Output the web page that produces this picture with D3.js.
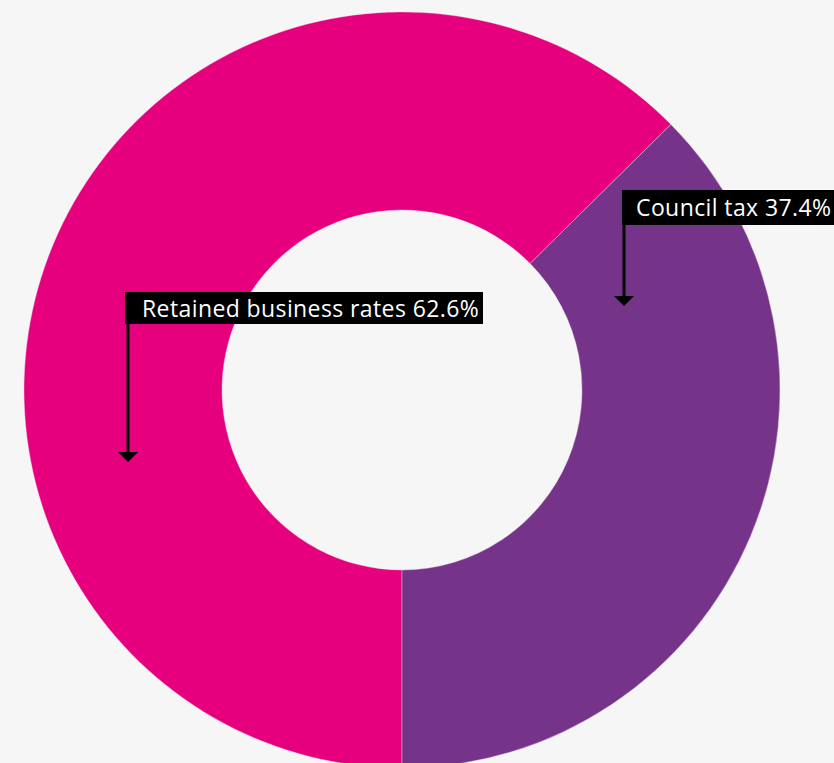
<!DOCTYPE html>
<html>
<head>
<meta charset="utf-8">
<script src="https://cdn.jsdelivr.net/npm/d3@7"></script>
<style>
  html, body { margin: 0; padding: 0; background: #f6f6f6; overflow: hidden; }
  svg { display: block; }
</style>
</head>
<body>
<div id="chart"></div>
<script>
var categories = ['Retained business rates', 'Council tax'];
var values = [62.6, 37.4];
var colors = ['#e6007e', '#75348a'];

var width = 834, height = 763;
var cx = 402, cy = 390;
var outerR = 378, innerR = 180;

var svg = d3.select('#chart').append('svg')
  .attr('width', width)
  .attr('height', height);

var pie = d3.pie()
  .sort(null)
  .startAngle(Math.PI)
  .endAngle(3 * Math.PI);

var arc = d3.arc()
  .innerRadius(innerR)
  .outerRadius(outerR);

var g = svg.append('g').attr('transform', 'translate(' + cx + ',' + cy + ')');

g.selectAll('path.slice')
  .data(pie(values))
  .enter().append('path')
  .attr('class', 'slice')
  .attr('d', arc)
  .attr('fill', function(d, i) { return colors[i]; })
  .attr('stroke', '#f0d8ec')
  .attr('stroke-width', 0.4);

// label boxes with leader arrows
var labels = [
  { box: [125, 292, 358, 32], text: [142, 317], tip: [128, 462] },
  { box: [622, 190, 220, 35], text: [636, 216], tip: [624, 306] }
];

function drawLabel(l, i) {
  var txt = categories[i] + ' ' + values[i].toFixed(1) + '%';
  var x = l.box[0], y = l.box[1];
  var lineX = l.tip[0];
  svg.append('line')
    .attr('x1', lineX).attr('y1', y + l.box[3] - 1)
    .attr('x2', lineX).attr('y2', l.tip[1] - 9)
    .attr('stroke', '#000')
    .attr('stroke-width', 3);
  svg.append('path')
    .attr('d', 'M' + (lineX - 10) + ',' + (l.tip[1] - 10) +
               'L' + (lineX + 10) + ',' + (l.tip[1] - 10) +
               'L' + lineX + ',' + l.tip[1] + 'Z')
    .attr('fill', '#000');
  svg.append('rect')
    .attr('x', x).attr('y', y)
    .attr('width', l.box[2]).attr('height', l.box[3])
    .attr('fill', '#000');
  svg.append('text')
    .attr('x', l.text[0]).attr('y', l.text[1])
    .attr('fill', '#fff')
    .attr('font-family', '"Open Sans", "Noto Sans", sans-serif')
    .attr('font-size', 23)
    .attr('letter-spacing', 0.4)
    .text(txt);
}

labels.forEach(drawLabel);
</script>
</body>
</html>
